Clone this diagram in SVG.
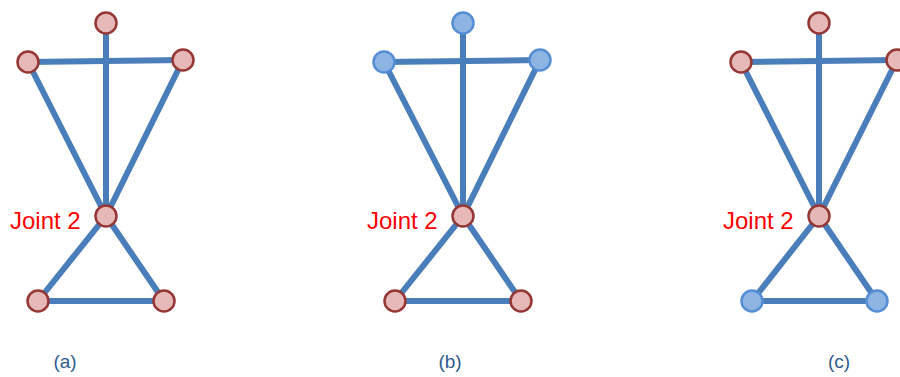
<svg xmlns="http://www.w3.org/2000/svg" width="900" height="377" viewBox="0 0 900 377">
<style>
.e{stroke:#4a7ebb;stroke-width:6;fill:none;stroke-linecap:round}
.r{fill:#e6b9b8;stroke:#953735;stroke-width:2.5}
.b{fill:#8eb4e3;stroke:#558ed5;stroke-width:2.5}
.j{font-family:"Liberation Sans",Arial,sans-serif;font-size:24px;fill:#ff0000}
.c{font-family:"Liberation Sans",Arial,sans-serif;font-size:19px;fill:#2f5b8f;text-anchor:middle}
</style>
<rect width="900" height="377" fill="#ffffff"/>
<g id="connectors">
<g id="edges-a">
<line class="e" x1="106" y1="23" x2="106" y2="216"/>
<line class="e" x1="28" y1="62" x2="183" y2="60"/>
<line class="e" x1="28" y1="62" x2="106" y2="216"/>
<line class="e" x1="183" y1="60" x2="106" y2="216"/>
<line class="e" x1="106" y1="216" x2="38" y2="301"/>
<line class="e" x1="106" y1="216" x2="164" y2="301"/>
<line class="e" x1="38" y1="301" x2="164" y2="301"/>
</g>
<g id="edges-b">
<line class="e" x1="463" y1="23" x2="463" y2="216"/>
<line class="e" x1="384" y1="62" x2="540" y2="60"/>
<line class="e" x1="384" y1="62" x2="463" y2="216"/>
<line class="e" x1="540" y1="60" x2="463" y2="216"/>
<line class="e" x1="463" y1="216" x2="395" y2="301"/>
<line class="e" x1="463" y1="216" x2="521" y2="301"/>
<line class="e" x1="395" y1="301" x2="521" y2="301"/>
</g>
<g id="edges-c">
<line class="e" x1="819" y1="23" x2="819" y2="216"/>
<line class="e" x1="741" y1="62" x2="897" y2="60"/>
<line class="e" x1="741" y1="62" x2="819" y2="216"/>
<line class="e" x1="897" y1="60" x2="819" y2="216"/>
<line class="e" x1="819" y1="216" x2="752" y2="301"/>
<line class="e" x1="819" y1="216" x2="877" y2="301"/>
<line class="e" x1="752" y1="301" x2="877" y2="301"/>
</g>
</g>
<g id="a-top"><circle class="r" cx="106" cy="23" r="10.5"/></g>
<g id="a-left"><circle class="r" cx="28" cy="62" r="10.5"/></g>
<g id="a-right"><circle class="r" cx="183" cy="60" r="10.5"/></g>
<g id="a-joint2"><circle class="r" cx="106" cy="216" r="10.5"/><text class="j" x="10" y="229">Joint 2</text></g>
<g id="a-bl"><circle class="r" cx="38" cy="301" r="10.5"/></g>
<g id="a-br"><circle class="r" cx="164" cy="301" r="10.5"/></g>

<g id="b-top"><circle class="b" cx="463" cy="23" r="10.5"/></g>
<g id="b-left"><circle class="b" cx="384" cy="62" r="10.5"/></g>
<g id="b-right"><circle class="b" cx="540" cy="60" r="10.5"/></g>
<g id="b-joint2"><circle class="r" cx="463" cy="216" r="10.5"/><text class="j" x="367" y="229">Joint 2</text></g>
<g id="b-bl"><circle class="r" cx="395" cy="301" r="10.5"/></g>
<g id="b-br"><circle class="r" cx="521" cy="301" r="10.5"/></g>

<g id="c-top"><circle class="r" cx="819" cy="23" r="10.5"/></g>
<g id="c-left"><circle class="r" cx="741" cy="62" r="10.5"/></g>
<g id="c-right"><circle class="r" cx="897" cy="60" r="10.5"/></g>
<g id="c-joint2"><circle class="r" cx="819" cy="216" r="10.5"/><text class="j" x="723" y="229">Joint 2</text></g>
<g id="c-bl"><circle class="b" cx="752" cy="301" r="10.5"/></g>
<g id="c-br"><circle class="b" cx="877" cy="301" r="10.5"/></g>

<g id="captions">
<text class="c" x="65" y="368">(a)</text>
<text class="c" x="450" y="368">(b)</text>
<text class="c" x="839" y="368">(c)</text>
</g>
</svg>
